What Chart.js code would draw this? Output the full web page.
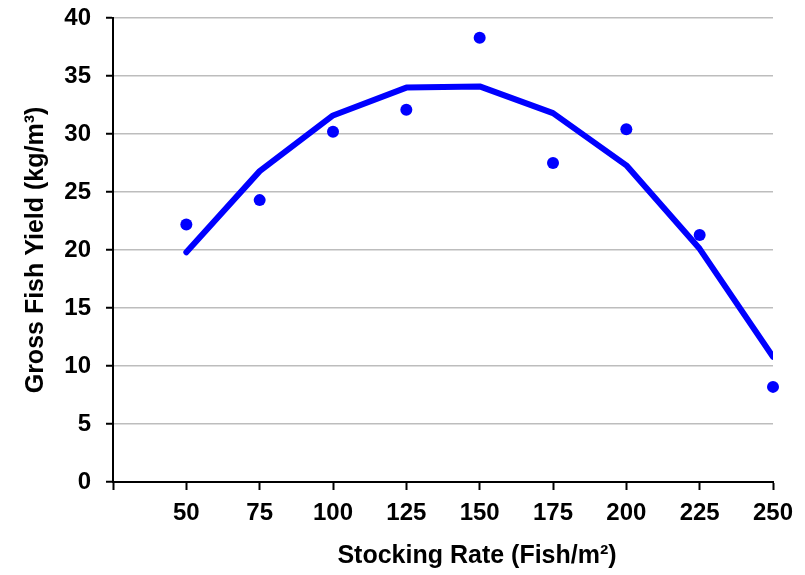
<!DOCTYPE html>
<html>
<head>
<meta charset="utf-8">
<script src="https://cdn.jsdelivr.net/npm/chart.js@4.4.1/dist/chart.umd.min.js"></script>
<style>
  html, body { margin: 0; padding: 0; background: #fff; }
  #wrap { width: 805px; height: 575px; }
</style>
</head>
<body>
<div id="wrap"><canvas id="c" width="805" height="575"></canvas></div>
<script>
// Stocking rates (fish per m²)
const stockingRates = [50, 75, 100, 125, 150, 175, 200, 225, 250];
// Observed gross fish yield (kg/m³)
const observedYield = [22.2, 24.3, 30.2, 32.1, 38.3, 27.5, 30.4, 21.3, 8.2];
// Fitted yield curve (kg/m³)
const fittedYield = [19.8, 26.8, 31.6, 34.0, 34.1, 31.8, 27.3, 20.1, 10.8];
// Axis tick values
const xTicks = [25, 50, 75, 100, 125, 150, 175, 200, 225, 250];
const yTicks = [0, 5, 10, 15, 20, 25, 30, 35, 40];

const FONT = '"Liberation Sans", Arial, sans-serif';
const BLUE = '#0000FF';

const toPoints = (xs, ys) => xs.map((x, i) => ({ x: x, y: ys[i] }));

// Draws the x-axis title below the tick labels
const xTitlePlugin = {
  id: 'xTitle',
  afterDraw(chart) {
    const ctx = chart.ctx;
    ctx.save();
    ctx.font = 'bold 25px ' + FONT;
    ctx.fillStyle = '#000';
    ctx.textAlign = 'center';
    ctx.textBaseline = 'middle';
    ctx.fillText('Stocking Rate (Fish/m²)', 477, 556);
    ctx.restore();
  }
};

new Chart(document.getElementById('c'), {
  type: 'scatter',
  data: {
    datasets: [
      {
        label: 'Fitted',
        data: toPoints(stockingRates, fittedYield),
        showLine: true,
        borderColor: BLUE,
        backgroundColor: BLUE,
        borderWidth: 6,
        borderJoinStyle: 'round',
        borderCapStyle: 'round',
        pointRadius: 0,
        pointHoverRadius: 0,
        clip: 0,
        order: 2
      },
      {
        label: 'Observed',
        data: toPoints(stockingRates, observedYield),
        showLine: false,
        borderColor: BLUE,
        backgroundColor: BLUE,
        pointRadius: 6,
        pointBorderWidth: 0,
        clip: false,
        order: 1
      }
    ]
  },
  options: {
    responsive: false,
    animation: false,
    devicePixelRatio: 1,
    layout: { padding: { top: 18, right: 32, left: 0, bottom: 0 } },
    plugins: {
      legend: { display: false },
      tooltip: { enabled: false }
    },
    scales: {
      x: {
        type: 'linear',
        min: 25,
        max: 250,
        afterBuildTicks(scale) { scale.ticks = xTicks.map(v => ({ value: v })); },
        afterFit(scale) {
          scale.height = 93;
          scale.paddingLeft = 0;
          scale.paddingRight = 0;
        },
        border: { display: true, color: '#000', width: 2 },
        grid: {
          drawOnChartArea: false,
          drawTicks: true,
          tickLength: 8,
          tickColor: '#000',
          tickWidth: 2
        },
        ticks: {
          color: '#000',
          padding: 9,
          maxRotation: 0,
          autoSkip: false,
          font: { family: FONT, size: 24, weight: 'bold' },
          callback: v => (v === 25 ? '' : v)
        },
        title: { display: false }
      },
      y: {
        type: 'linear',
        min: 0,
        max: 40,
        afterBuildTicks(scale) { scale.ticks = yTicks.map(v => ({ value: v })); },
        afterFit(scale) {
          scale.width = 113;
          scale.paddingTop = 0;
          scale.paddingBottom = 0;
        },
        border: { display: true, color: '#000', width: 2 },
        grid: {
          color: '#bdbdbd',
          lineWidth: 1.5,
          drawTicks: true,
          tickLength: 7,
          tickColor: '#000',
          tickWidth: 2
        },
        ticks: {
          color: '#000',
          padding: 15,
          autoSkip: false,
          font: { family: FONT, size: 24, weight: 'bold' }
        },
        title: {
          display: true,
          text: 'Gross Fish Yield (kg/m³)',
          color: '#000',
          font: { family: FONT, size: 25, weight: 'bold' },
          padding: { top: 21, bottom: 0 }
        }
      }
    }
  },
  plugins: [xTitlePlugin]
});
</script>
</body>
</html>
